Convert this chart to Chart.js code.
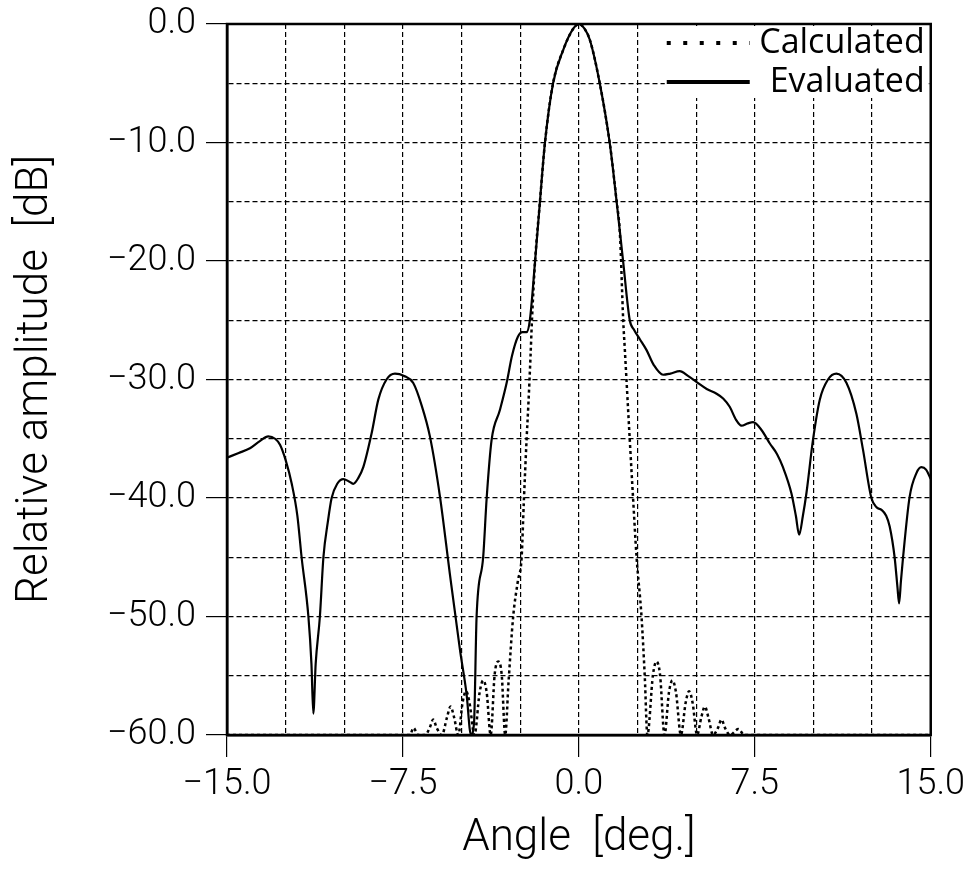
<!DOCTYPE html>
<html>
<head>
<meta charset="utf-8">
<script src="https://cdn.jsdelivr.net/npm/chart.js@4.4.1/dist/chart.umd.min.js"></script>
<style>
  html, body { margin: 0; padding: 0; background: #fff; }
  #wrap { width: 971px; height: 873px; }
</style>
</head>
<body>
<div id="wrap"><canvas id="beamChart"></canvas></div>
<script>
// ---- data ----
// measured ("Evaluated") pattern
const evalAngle = [-15.0, -14.5, -14.02, -13.6, -13.24, -12.95, -12.74, -12.5, -12.24, -12.0, -11.82, -11.53, -11.4, -11.32, -11.22, -11.04, -10.89, -10.7, -10.54, -10.3, -10.04, -9.8, -9.62, -9.4, -9.19, -8.83, -8.55, -8.2, -7.84, -7.45, -7.06, -6.7, -6.35, -5.92, -5.5, -5.07, -4.79, -4.6, -4.47, -4.36, -4.08, -3.93, -3.72, -3.37, -3.08, -2.85, -2.6, -2.4, -2.23, -2.09, -1.87, -1.66, -1.45, -1.1, -0.67, -0.24, 0.0, 0.24, 0.47, 0.89, 1.32, 1.61, 1.89, 2.17, 2.35, 2.6, 2.88, 3.2, 3.59, 3.9, 4.3, 4.65, 5.01, 5.45, 5.87, 6.15, 6.43, 6.7, 6.93, 7.2, 7.43, 7.8, 8.14, 8.45, 8.7, 9.06, 9.25, 9.39, 9.55, 9.7, 9.98, 10.27, 10.62, 10.98, 11.41, 11.83, 12.11, 12.47, 12.7, 12.9, 13.1, 13.25, 13.46, 13.58, 13.65, 13.73, 13.82, 14.1, 14.39, 14.6, 14.8, 15.0];
const evalDb = [-36.6, -36.2, -35.8, -35.2, -34.8, -35.0, -35.5, -36.8, -38.8, -41.5, -45.0, -50.0, -54.0, -58.2, -54.0, -50.0, -45.0, -42.0, -40.0, -38.8, -38.4, -38.6, -38.8, -38.3, -37.4, -34.5, -31.7, -30.0, -29.5, -29.7, -30.3, -32.2, -34.8, -39.9, -46.4, -52.8, -56.5, -60.0, -59.0, -50.0, -45.0, -40.0, -35.1, -32.6, -30.3, -28.0, -26.4, -26.0, -26.0, -25.0, -20.1, -15.0, -10.1, -5.0, -2.2, -0.4, 0.0, -0.4, -1.35, -5.0, -10.1, -15.0, -20.1, -25.0, -25.8, -26.6, -27.5, -28.8, -29.6, -29.5, -29.3, -29.7, -30.2, -30.8, -31.2, -31.6, -32.3, -33.4, -33.9, -33.7, -33.6, -34.3, -35.4, -36.3, -37.4, -39.6, -41.5, -43.1, -41.5, -39.6, -35.1, -31.7, -30.0, -29.5, -30.3, -32.9, -35.9, -40.0, -40.8, -41.0, -41.5, -42.4, -45.0, -47.5, -48.9, -47.0, -45.0, -39.9, -37.9, -37.4, -37.6, -38.4];

// theoretical ("Calculated") pattern
const calcAngle = [-15.0, -7.2, -7.05, -6.85, -6.55, -6.36, -6.21, -6.06, -5.84, -5.62, -5.47, -5.32, -5.14, -4.96, -4.81, -4.66, -4.45, -4.23, -4.08, -3.93, -3.76, -3.59, -3.44, -3.29, -3.14, -3.0, -2.8, -2.6, -2.44, -2.35, -2.23, -2.15, -2.06, -2.0, -1.87, -1.66, -1.45, -1.1, -0.67, -0.24, 0.0, 0.24, 0.47, 0.89, 1.32, 1.61, 1.75, 1.89, 1.96, 2.17, 2.31, 2.46, 2.67, 2.81, 2.92, 3.16, 3.31, 3.46, 3.65, 3.84, 3.99, 4.14, 4.35, 4.55, 4.7, 4.85, 5.04, 5.22, 5.37, 5.52, 5.72, 5.93, 6.08, 6.23, 6.44, 6.8, 7.05, 15.0];
const calcDb = [-60.0, -60.0, -59.4, -60.0, -60.0, -59.4, -58.7, -59.4, -60.0, -58.5, -57.6, -58.5, -60.0, -57.3, -56.3, -57.3, -60.0, -56.4, -55.4, -56.4, -60.0, -54.9, -53.8, -54.9, -60.0, -55.6, -50.0, -47.0, -45.0, -40.5, -35.1, -32.0, -28.0, -25.0, -20.1, -15.0, -10.1, -5.0, -2.2, -0.4, 0.0, -0.4, -1.35, -5.0, -10.1, -15.0, -17.7, -25.0, -27.5, -35.1, -40.0, -45.0, -50.0, -55.1, -60.0, -54.9, -53.8, -54.9, -60.0, -56.4, -55.4, -56.4, -60.0, -57.3, -56.3, -57.3, -60.0, -58.5, -57.6, -58.5, -60.0, -59.4, -58.7, -59.4, -60.0, -59.5, -60.0, -60.0];

const xTickLabels = [-15, -7.5, 0, 7.5, 15];
const yTickLabels = [0, -10, -20, -30, -40, -50, -60];
const seriesNames = ['Calculated', 'Evaluated'];

function toPoints(xs, ys) {
    return xs.map((x, i) => ({ x: x, y: ys[i] }));
}
// "-10.0" style labels with a real minus sign
function fmt(v) {
    let s = Math.abs(v).toFixed(1);
    return (v < 0 ? '\u2212' : '') + s;
}

const xTickFont = { family: 'Roboto', size: 36, weight: '300' };
// small lineHeight so the top label does not push the plot area down
const yTickFont = { family: 'Roboto', size: 36, weight: '300', lineHeight: 0.75 };
const titleFont = { family: 'Roboto', size: 44, weight: '300' };

// frame on all four sides + legend box top right
const frameLegend = {
    id: 'frameLegend',
    afterDraw(chart) {
        const { ctx, chartArea: a } = chart;
        ctx.save();

        // legend (white box over the grid)
        const lx = a.right - 266;
        ctx.fillStyle = '#fff';
        ctx.fillRect(lx, a.top + 2, a.right - lx - 2, 72);

        const ds = chart.data.datasets;
        const rows = [a.top + 19, a.top + 58];
        ds.forEach((d, i) => {
            ctx.beginPath();
            ctx.strokeStyle = '#000';
            ctx.lineWidth = 4;
            ctx.setLineDash(d.legendDash || []);
            ctx.moveTo(lx + 2, rows[i]);
            ctx.lineTo(lx + 85, rows[i]);
            ctx.stroke();
        });
        ctx.setLineDash([]);
        ctx.fillStyle = '#000';
        ctx.font = '34px "Open Sans"';
        ctx.textAlign = 'right';
        ctx.textBaseline = 'middle';
        ds.forEach((d, i) => {
            ctx.fillText(d.label, a.right - 6, rows[i]);
        });

        // frame
        ctx.lineWidth = 2.5;
        ctx.strokeStyle = '#000';
        ctx.strokeRect(a.left, a.top, a.right - a.left, a.bottom - a.top);
        ctx.restore();
    }
};

const ctx = document.getElementById('beamChart').getContext('2d');
const beamChart = new Chart(ctx, {
    type: 'line',
    data: {
        datasets: [{
            label: seriesNames[0],
            data: toPoints(calcAngle, calcDb),
            borderColor: '#000',
            borderWidth: 2.5,
            borderDash: [3, 3],
            legendDash: [4, 12.5],
            pointRadius: 0,
            cubicInterpolationMode: 'monotone',
            fill: false
        }, {
            label: seriesNames[1],
            data: toPoints(evalAngle, evalDb),
            borderColor: '#000',
            borderWidth: 2.2,
            pointRadius: 0,
            cubicInterpolationMode: 'monotone',
            fill: false
        }]
    },
    options: {
        responsive: true,
        maintainAspectRatio: false,
        animation: false,
        layout: { padding: { left: 0, top: 24, right: 40, bottom: 0 } },
        plugins: {
            legend: { display: false },
            tooltip: { enabled: false }
        },
        scales: {
            x: {
                type: 'linear',
                min: -15,
                max: 15,
                afterFit: function(scale) { scale.height = 138; },
                ticks: {
                    stepSize: 2.5,
                    autoSkip: false,
                    maxRotation: 0,
                    color: '#000',
                    font: xTickFont,
                    padding: 6,
                    callback: function(value) {
                        return xTickLabels.includes(value) ? fmt(value) : '';
                    }
                },
                grid: {
                    color: '#000',
                    lineWidth: 1.2,
                    tickLength: 22,
                    tickColor: function(c) {
                        return c.tick && xTickLabels.includes(c.tick.value) ? '#000' : 'rgba(0,0,0,0)';
                    }
                },
                border: { display: true, color: '#000', width: 2.5, dash: [5, 3] },
                title: {
                    display: true,
                    text: 'Angle  [deg.]',
                    color: '#000',
                    font: titleFont,
                    padding: { top: 0, bottom: 8 }
                }
            },
            y: {
                min: -60,
                max: 0,
                afterFit: function(scale) { scale.width = 227; },
                ticks: {
                    stepSize: 5,
                    autoSkip: false,
                    color: '#000',
                    font: yTickFont,
                    padding: 10,
                    callback: function(value) {
                        return yTickLabels.includes(value) ? fmt(value) : '';
                    }
                },
                grid: {
                    color: '#000',
                    lineWidth: 1.2,
                    tickLength: 21,
                    tickColor: function(c) {
                        return c.tick && yTickLabels.includes(c.tick.value) ? '#000' : 'rgba(0,0,0,0)';
                    }
                },
                border: { display: true, color: '#000', width: 2.5, dash: [5, 3] },
                title: {
                    display: true,
                    text: 'Relative amplitude  [dB]',
                    color: '#000',
                    font: titleFont,
                    padding: { top: 10, bottom: 0 }
                }
            }
        }
    },
    plugins: [frameLegend]
});
</script>
</body>
</html>
